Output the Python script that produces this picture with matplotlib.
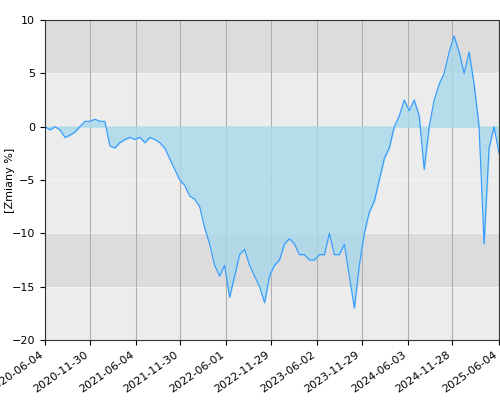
import matplotlib
matplotlib.use("Agg")
import matplotlib.pyplot as plt
import pandas as pd

values = [0,-0.3,0,-0.3,-1.0,-0.8,-0.5,0,0.5,0.5,0.7,0.5,0.5,-1.8,-2,-1.5,-1.2,-1.0,-1.2,-1.0,
          -1.5,-1.0,-1.2,-1.5,-2,-3,-4,-5,-5.5,-6.5,-6.8,-7.5,-9.5,-11,-13,-14,-13,-16,-14,-12,
          -11.5,-13,-14,-15,-16.5,-14,-13,-12.5,-11,-10.5,-11,-12,-12,-12.5,-12.5,-12,-12,-10,-12,-12,
          -11,-14,-17,-13,-10,-8,-7,-5,-3,-2,0,1,2.5,1.5,2.5,1,-4,0,2.5,4,
          5,7,8.5,7,5,7,4,0,-11,-2,0,-2.5]
dates = pd.date_range("2020-06-04", "2025-06-04", periods=len(values))
tick_labels = ["2020-06-04","2020-11-30","2021-06-04","2021-11-30","2022-06-01","2022-11-29",
               "2023-06-02","2023-11-29","2024-06-03","2024-11-28","2025-06-04"]

fig = plt.figure(figsize=(5, 4), dpi=100)
ax = fig.add_axes([0.09, 0.15, 0.908, 0.8])
bands = [(5, 10, "#dcdcdc"), (0, 5, "#ececec"), (-5, 0, "#ececec"), (-10, -5, "#ececec"),
         (-15, -10, "#dcdcdc"), (-20, -15, "#ececec")]
for lo, hi, c in bands:
    ax.axhspan(lo, hi, color=c, zorder=0, lw=0)
for y in [5, 0, -5, -10, -15]:
    ax.axhline(y, color="#f8f8f8", lw=0.6, zorder=0.5)
tk = pd.to_datetime(tick_labels)
for t in tk:
    ax.axvline(t, color="#b0b0b0", lw=0.8, zorder=0.6)
ax.fill_between(dates, values, 0, color="#a8d8ea", alpha=0.8, zorder=1)
ax.plot(dates, values, color="#3399ff", lw=0.8, zorder=2)
ax.set_xlim(dates[0], dates[-1])
ax.set_ylim(-20, 10)
ax.set_yticks([10, 5, 0, -5, -10, -15, -20])
ax.set_xticks(tk)
ax.set_xticklabels(tick_labels, rotation=35, ha="right", fontsize=8)
ax.tick_params(axis="y", labelsize=8)
ax.set_ylabel("[Zmiany %]", fontsize=8)
ax.yaxis.set_label_coords(-0.065, 0.5)
for s in ax.spines.values():
    s.set_color("#333333")
fig.savefig("out.png")
